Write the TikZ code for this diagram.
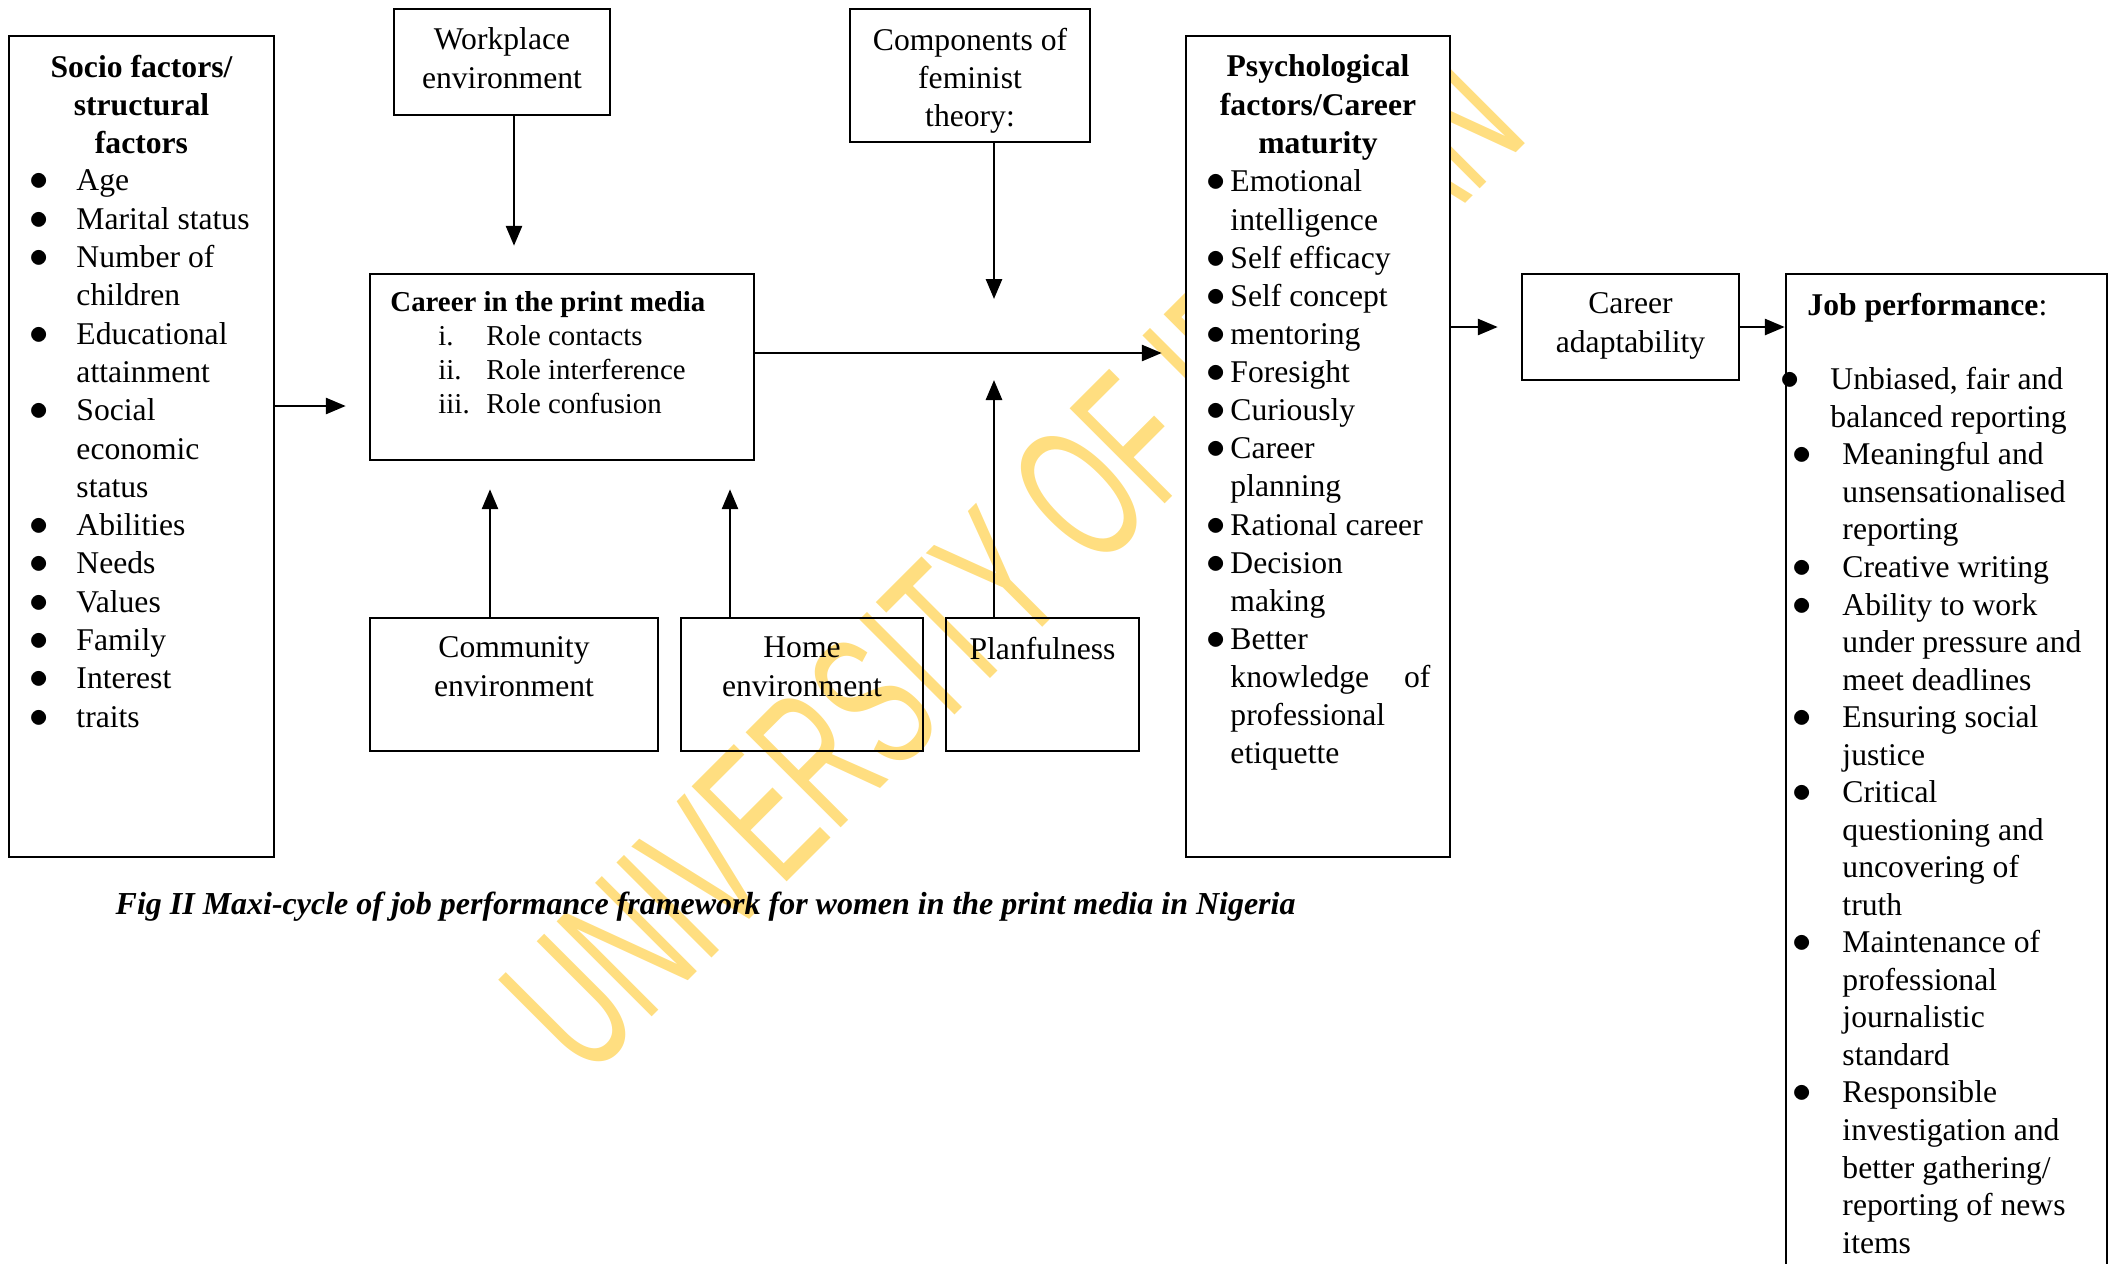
\documentclass[tikz,border=0pt]{standalone}
\usepackage{fontspec}
\setmainfont{Liberation Serif}
\newfontfamily\wmfont{Liberation Sans}
\usetikzlibrary{positioning, arrows.meta}

\definecolor{wmyellow}{RGB}{255,222,128}
\newcommand{\bdot}{{\fontsize{10.5}{10}\selectfont$\bullet$}}
\newcommand{\bul}[1][4.4mm]{\makebox[#1][l]{\kern-0.3mm\bdot}}
\newcommand{\ind}[1][4.4mm]{\hspace*{#1}}

\begin{document}
\begin{tikzpicture}[
  box/.style={draw, line width=0.7pt, inner sep=0pt},
  txt/.style={inner sep=0pt, align=left, font=\fontsize{9}{10.9}\selectfont},
  ctxt/.style={txt, align=center},
  head/.style={inner sep=0pt, align=center, font=\fontsize{9}{10.9}\selectfont\bfseries},
  arrow/.style={-{Triangle[length=2mm, width=1.6mm]}, line width=0.8pt}
]
\useasboundingbox (0,0) rectangle (21.15,-12.64);

% watermark
\node[text=wmyellow, rotate=45, inner sep=0pt, font=\wmfont\fontsize{55.6}{60}\selectfont] (wm) at (10.12,-5.62)
  {\scalebox{0.586}[1]{UNIVERSITY OF IBADAN}};

% boxes
\node[box, minimum width=2.65cm, minimum height=8.21cm] (socio) at (1.415,-4.465) {};
\node[box, minimum width=2.16cm, minimum height=1.06cm] (work) at (5.02,-0.62) {};
\node[box, minimum width=2.40cm, minimum height=1.33cm] (feminist) at (9.70,-0.755) {};
\node[box, minimum width=3.84cm, minimum height=1.86cm] (career) at (5.62,-3.67) {};
\node[box, minimum width=2.88cm, minimum height=1.33cm] (community) at (5.14,-6.845) {};
\node[box, minimum width=2.42cm, minimum height=1.33cm] (home) at (8.02,-6.845) {};
\node[box, minimum width=1.93cm, minimum height=1.33cm] (plan) at (10.425,-6.845) {};
\node[box, fill=white, minimum width=2.64cm, minimum height=8.21cm] (psych) at (13.18,-4.465) {};
\node[box, minimum width=2.17cm, minimum height=1.06cm] (adapt) at (16.305,-3.27) {};
\node[box, minimum width=3.21cm, minimum height=10.01cm] (job) at (19.465,-7.745) {};

% texts in the boxes
\node[ctxt, below=1.95mm of work.north] (worktxt) {Workplace\\environment};
\node[ctxt, below=1.95mm of feminist.north] (feministtxt) {Components of\\feminist\\theory:};
\node[ctxt, below=1.95mm of adapt.north] (adapttxt) {Career\\adaptability};
\node[head, below=1.95mm of socio.north] (sociohead) {Socio factors/\\structural\\factors};
\node[txt, below right=13.45mm and 2.4mm of socio.north west] (sociolist)
  {\bul Age\\ \bul Marital status\\ \bul Number of\\ \ind children\\
   \bul Educational\\ \ind attainment\\ \bul Social\\ \ind economic\\ \ind status\\
   \bul Abilities\\ \bul Needs\\ \bul Values\\ \bul Family\\ \bul Interest\\ \bul traits};
\node[txt, font=\fontsize{8.2}{9.67}\selectfont, below right=1.8mm and 2.1mm of career.north west] (careerlist)
  {\textbf{Career in the print media}\\
   \ind[4.8mm]\makebox[4.8mm][l]{i.}Role contacts\\
   \ind[4.8mm]\makebox[4.8mm][l]{ii.}Role interference\\
   \ind[4.8mm]\makebox[4.8mm][l]{iii.}Role confusion};
\node[ctxt, below=1.95mm of community.north] (communitytxt) {Community\\environment};
\node[ctxt, below=1.95mm of home.north] (hometxt) {Home\\environment};
\node[ctxt, below=1.95mm of plan.north] (plantxt) {Planfulness};
\node[head, below=1.95mm of psych.north] (psychhead) {Psychological\\factors/Career\\maturity};
\node[txt, font=\fontsize{9}{10.85}\selectfont, below right=13.45mm and 2.4mm of psych.north west] (psychlist)
  {\bul[2.1mm]Emotional\\ \ind[2.1mm]intelligence\\ \bul[2.1mm]Self efficacy\\
   \bul[2.1mm]Self concept\\ \bul[2.1mm]mentoring\\ \bul[2.1mm]Foresight\\
   \bul[2.1mm]Curiously\\ \bul[2.1mm]Career\\ \ind[2.1mm]planning\\
   \bul[2.1mm]Rational career\\ \bul[2.1mm]Decision\\ \ind[2.1mm]making\\
   \bul[2.1mm]Better\\ \ind[2.1mm]\makebox[20mm][s]{knowledge of}\\
   \ind[2.1mm]professional\\ \ind[2.1mm]etiquette};
\node[txt, font=\fontsize{9}{10.68}\selectfont, below right=1.95mm and -0.2mm of job.north west] (joblist)
  {\ind[2.4mm]\textbf{Job performance}:\\[3.7mm]
   \bul[4.7mm]Unbiased, fair and\\ \ind[4.7mm]balanced reporting\\
   \ind[1.2mm]\bul[4.7mm]Meaningful and\\ \ind[5.9mm]unsensationalised\\ \ind[5.9mm]reporting\\
   \ind[1.2mm]\bul[4.7mm]Creative writing\\
   \ind[1.2mm]\bul[4.7mm]Ability to work\\ \ind[5.9mm]under pressure and\\ \ind[5.9mm]meet deadlines\\
   \ind[1.2mm]\bul[4.7mm]Ensuring social\\ \ind[5.9mm]justice\\
   \ind[1.2mm]\bul[4.7mm]Critical\\ \ind[5.9mm]questioning and\\ \ind[5.9mm]uncovering of\\ \ind[5.9mm]truth\\
   \ind[1.2mm]\bul[4.7mm]Maintenance of\\ \ind[5.9mm]professional\\ \ind[5.9mm]journalistic\\ \ind[5.9mm]standard\\
   \ind[1.2mm]\bul[4.7mm]Responsible\\ \ind[5.9mm]investigation and\\ \ind[5.9mm]better gathering/\\ \ind[5.9mm]reporting of news\\ \ind[5.9mm]items};

\node[anchor=west, inner sep=0pt, font=\fontsize{9.1}{11}\selectfont\bfseries\itshape] (caption) at (1.15,-9.07)
  {Fig II Maxi-cycle of job performance framework for women in the print media in Nigeria};

% connectors
\coordinate (cin) at ([yshift=-3.9mm]career.west);
\draw[arrow, shorten >=2.3mm] (socio.east |- cin) -- (cin);

\coordinate (wdrop) at ([xshift=1.2mm]work.south);
\draw[arrow, shorten >=2.7mm] (wdrop) -- (wdrop |- career.north);

\coordinate (cout) at ([yshift=1.4mm]career.east);
\draw[arrow, shorten >=2.3mm] (cout) -- (cout -| psych.west);

\coordinate (fdrop) at ([xshift=2.4mm]feminist.south);
\coordinate (hub) at (fdrop |- cout);
\draw[arrow, shorten >=5.4mm] (fdrop) -- (hub);
\draw[arrow, shorten >=2.7mm] (plan.north -| hub) -- (hub);

\coordinate (cup) at ([xshift=-2.4mm]community.north);
\draw[arrow, shorten >=2.8mm] (cup) -- (cup |- career.south);
\coordinate (hup) at ([xshift=-7.2mm]home.north);
\draw[arrow, shorten >=2.8mm] (hup) -- (hup |- career.south);

\draw[arrow, shorten >=2.3mm] (psych.east |- adapt) -- (adapt.west);
\draw[arrow] (adapt.east) -- (adapt -| job.west);
\end{tikzpicture}
\end{document}
